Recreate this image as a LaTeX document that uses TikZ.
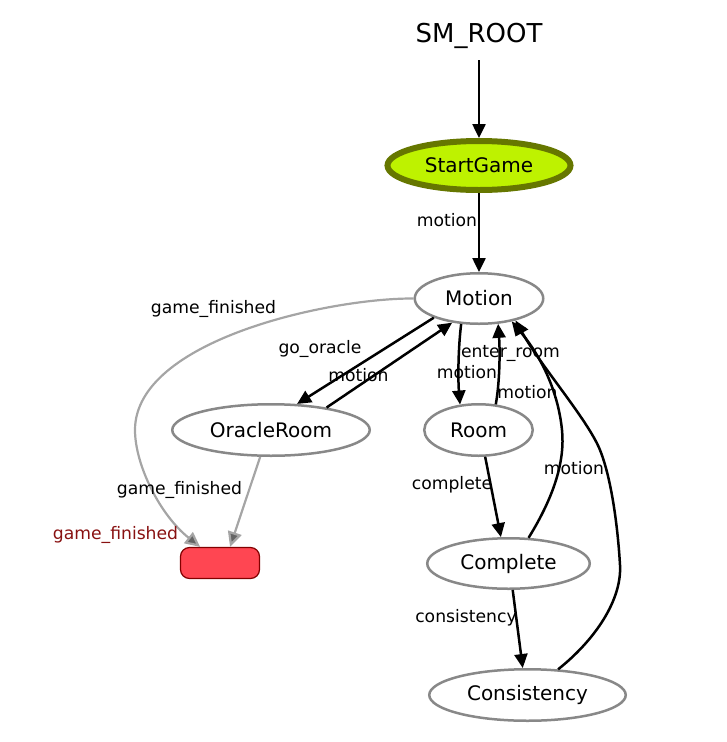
\documentclass[tikz,border=0pt]{standalone}
\usepackage{fontspec}
\setmainfont{DejaVu Sans}
\usetikzlibrary{arrows.meta,shapes.geometric}
\definecolor{startfill}{RGB}{190,242,0}
\definecolor{startborder}{RGB}{102,119,0}
\definecolor{stategray}{RGB}{136,136,136}
\definecolor{edgegray}{RGB}{165,165,165}
\definecolor{tipgray}{RGB}{100,100,100}
\definecolor{finalfill}{RGB}{255,70,82}
\definecolor{finalborder}{RGB}{130,0,0}
\definecolor{labelred}{RGB}{136,17,17}
\begin{document}
\begin{tikzpicture}[x=1pt,y=-1pt,
  state/.style={ellipse, draw=stategray, line width=2.5pt, fill=white, inner sep=0pt,
    font=\fontsize{20}{24}\selectfont},
  edge/.style={line width=2.5pt, -{Triangle[length=14pt,width=13pt]}},
  grayedge/.style={line width=2.2pt, draw=edgegray, -{Triangle[length=15pt,width=14pt,fill=tipgray]}},
  lbl/.style={font=\fontsize{17.2}{20}\selectfont, inner sep=0pt}]
\useasboundingbox (0,0) rectangle (727,742);

% states
\node[font=\fontsize{26}{30}\selectfont, inner sep=0pt, minimum height=48pt] (root) at (479,36) {SM\_ROOT};
\node[state, draw=startborder, fill=startfill, line width=6pt, minimum width=183pt, minimum height=49pt] (start) at (479,165.5) {StartGame};
\node[state, minimum width=128.5pt, minimum height=50.5pt] (motion) at (479,298.5) {Motion};
\node[state, minimum width=197.5pt, minimum height=51.5pt] (oracle) at (271,430) {OracleRoom};
\node[state, minimum width=108.5pt, minimum height=51.5pt] (room) at (478.5,430) {Room};
\node[state, minimum width=162.5pt, minimum height=50.5pt] (complete) at (508.5,563.5) {Complete};
\node[state, minimum width=196.5pt, minimum height=51.5pt] (consistency) at (527.5,695) {Consistency};
\node[draw=finalborder, fill=finalfill, line width=1.2pt, rounded corners=9pt,
  minimum width=79pt, minimum height=31pt, inner sep=0pt] (final) at (220,563) {};

% transitions
\draw[edge] (root.south) -- (start.north);
\draw[edge] (start.south) -- (motion.north);
\draw[edge] (motion.203) -- (oracle.45);
\draw[edge] (oracle.22) -- (motion.222);
\draw[edge] (motion.235) .. controls (458,350) and (458,380) .. (room.126);
\draw[edge] (room.56) .. controls (500,380) and (500,350) .. (motion.307);
\draw[edge] (room.284) -- (complete.106);
\draw[edge] (complete.279) -- (consistency.100);
\draw[edge] (complete.52) .. controls (555,495) and (565,460) .. (562,430)
  .. controls (558,390) and (540,355) .. (motion.325);
\draw[edge] (consistency.40) .. controls (595,640) and (622,600) .. (620,565)
  .. controls (618,530) and (612,480) .. (600,450)
  .. controls (588,420) and (540,365) .. (motion.329);
\draw[grayedge] (motion.180) .. controls (330,298) and (135,340) .. (135,430)
  .. controls (135,465) and (160,515) .. (final.141);
\draw[grayedge] (oracle.248) -- (final.58);

% transition labels
\node[lbl] (lstart) at (447,220) {motion};
\node[lbl] (lgf1) at (213.5,309) {game\_finished};
\node[lbl] (lgo) at (320,349) {go\_oracle};
\node[lbl] (lor) at (358.5,375) {motion};
\node[lbl] (lenter) at (510.5,353) {enter\_room};
\node[lbl] (lmr1) at (467,372) {motion};
\node[lbl] (lmr2) at (527.5,392) {motion};
\node[lbl] (lcm) at (574,468) {motion};
\node[lbl] (lcomp) at (452,485) {complete};
\node[lbl] (lcons) at (466,618) {consistency};
\node[lbl] (lgf2) at (179.5,490) {game\_finished};
\node[lbl, text=labelred] (lgf3) at (115.5,535) {game\_finished};
\end{tikzpicture}
\end{document}
